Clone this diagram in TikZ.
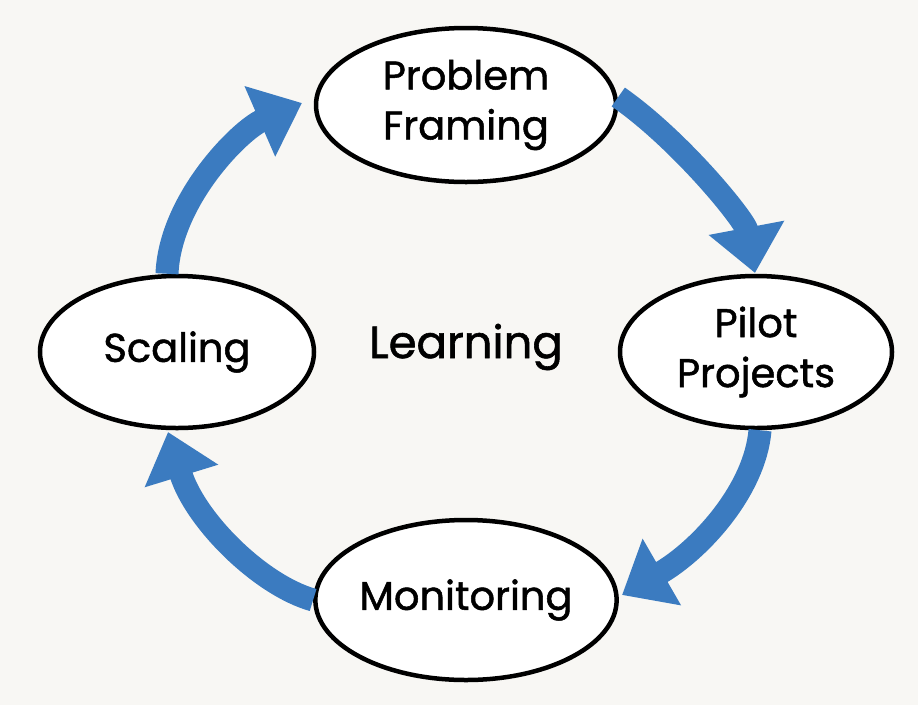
\documentclass[tikz,border=0pt]{standalone}
\usepackage{fontspec}
\setmainfont{Poppins}
\newfontfamily\labfont{Poppins}[FakeBold=1.3]
\usetikzlibrary{arrows.meta,shapes.geometric}
\definecolor{bg}{RGB}{248,247,244}
\definecolor{flow}{RGB}{59,123,192}
\tikzset{
  stage/.style={draw=black, line width=4.5pt, ellipse, fill=white, inner sep=0pt, align=center, font=\labfont\fontsize{40}{50}\selectfont},
  cyclearrow/.style={draw=flow, line width=23pt, -{Triangle[length=46pt,width=74pt]}},
}
\begin{document}
\begin{tikzpicture}[x=1pt,y=-1pt]
\fill[bg] (0,0) rectangle (918,705);
\useasboundingbox (0,0) rectangle (918,705);
\node[stage, minimum width=300pt, minimum height=154pt] (pf) at (466,105) {Problem\\Framing};
\node[stage, minimum width=272pt, minimum height=152pt] (pp) at (756,352) {Pilot\\Projects};
\node[stage, minimum width=274pt, minimum height=152pt] (sc) at (177,352) {Scaling};
\node[stage, minimum width=286pt, minimum height=160pt] (mo) at (466,600) {Monitoring};
\node[font=\labfont\fontsize{45}{50}\selectfont] (le) at (466,347) {Learning};
\draw[cyclearrow] (sc.north) ++(-10,0) coordinate (a1) .. controls (170,200) and (240,130) .. (302,103);
\draw[cyclearrow] (pf.east) ++(0,-8) coordinate (a2) .. controls (680,140) and (745,220) .. (755,273);
\draw[cyclearrow] (pp.south) ++(4,0) coordinate (a3) .. controls (755,490) and (700,550) .. (622,595);
\draw[cyclearrow] (mo.west) coordinate (a4) .. controls (260,585) and (195,520) .. (168,432);
\end{tikzpicture}
\end{document}
